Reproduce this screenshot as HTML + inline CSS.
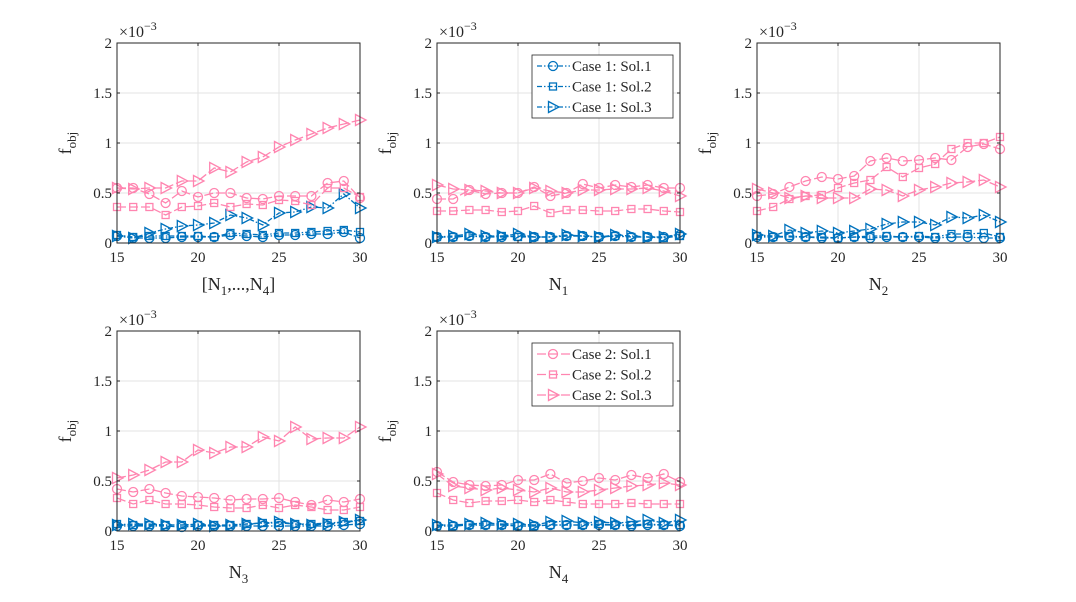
<!DOCTYPE html>
<html><head><meta charset="utf-8"><style>
html,body{margin:0;padding:0;background:#fff;}
svg{display:block;font-family:"Liberation Serif",serif;}
</style></head><body>
<svg id="fig" width="1076" height="602" viewBox="0 0 1076 602" xmlns="http://www.w3.org/2000/svg"></svg>
<script>
const xCats=[15,16,17,18,19,20,21,22,23,24,25,26,27,28,29,30];
const xTicks=[15,20,25,30];
const yTicks=[0,0.5,1,1.5,2];
const yTickLabels=["0","0.5","1","1.5","2"];
// values in units of 1e-3
const p1_c1s1=[.07,.05,.05,.05,.06,.06,.06,.08,.07,.06,.08,.08,.09,.09,.11,.05];
const p1_c1s2=[.08,.06,.07,.07,.07,.07,.06,.10,.09,.08,.10,.10,.11,.12,.13,.11];
const p1_c1s3=[.07,.05,.10,.14,.17,.18,.20,.28,.25,.18,.30,.31,.36,.35,.49,.35];
const p1_c2s1=[.55,.55,.49,.40,.52,.46,.50,.50,.45,.44,.47,.47,.47,.60,.62,.45];
const p1_c2s2=[.36,.36,.36,.28,.36,.37,.40,.36,.39,.38,.43,.42,.38,.55,.55,.46];
const p1_c2s3=[.55,.54,.55,.55,.62,.62,.75,.71,.81,.86,.96,1.03,1.09,1.15,1.19,1.23];
const p2_c1s1=[.06,.06,.07,.06,.06,.07,.06,.06,.07,.07,.06,.07,.06,.06,.06,.08];
const p2_c1s2=[.06,.06,.07,.06,.07,.06,.06,.06,.07,.07,.06,.07,.06,.06,.05,.07];
const p2_c1s3=[.06,.07,.09,.07,.07,.09,.06,.06,.08,.07,.06,.08,.07,.06,.06,.09];
const p2_c2s1=[.44,.44,.53,.49,.50,.50,.56,.47,.50,.59,.55,.58,.56,.58,.55,.55];
const p2_c2s2=[.32,.32,.33,.33,.31,.32,.37,.30,.33,.33,.32,.32,.34,.34,.32,.31];
const p2_c2s3=[.58,.54,.53,.52,.50,.50,.55,.52,.50,.53,.53,.54,.54,.55,.52,.47];
const p3_c1s1=[.06,.06,.06,.06,.05,.05,.06,.05,.06,.06,.06,.05,.06,.06,.05,.05];
const p3_c1s2=[.07,.06,.07,.06,.06,.05,.06,.07,.07,.06,.07,.06,.09,.09,.10,.06];
const p3_c1s3=[.08,.07,.13,.10,.12,.10,.12,.14,.19,.21,.21,.18,.26,.25,.28,.21];
const p3_c2s1=[.47,.49,.56,.62,.66,.64,.67,.82,.85,.82,.83,.85,.83,.96,.99,.94];
const p3_c2s2=[.32,.36,.44,.47,.48,.55,.60,.63,.76,.66,.75,.79,.94,1.0,1.0,1.06];
const p3_c2s3=[.54,.50,.45,.47,.45,.45,.45,.54,.53,.47,.53,.56,.60,.61,.63,.56];
const p4_c1s1=[.05,.05,.05,.05,.04,.05,.05,.05,.05,.05,.05,.05,.05,.05,.06,.07];
const p4_c1s2=[.07,.06,.06,.06,.06,.06,.06,.06,.07,.08,.08,.07,.07,.08,.09,.10];
const p4_c1s3=[.06,.07,.07,.06,.06,.07,.05,.06,.07,.08,.09,.07,.06,.07,.09,.11];
const p4_c2s1=[.42,.39,.42,.38,.35,.34,.33,.31,.32,.32,.33,.29,.26,.31,.29,.32];
const p4_c2s2=[.33,.27,.31,.27,.27,.26,.24,.23,.23,.26,.23,.26,.24,.21,.21,.24];
const p4_c2s3=[.53,.56,.61,.69,.69,.81,.78,.84,.84,.94,.90,1.04,.92,.93,.93,1.04];
const p5_c1s1=[.05,.05,.06,.06,.06,.05,.05,.06,.06,.06,.06,.06,.05,.06,.06,.05];
const p5_c1s2=[.05,.05,.06,.06,.06,.05,.05,.06,.06,.06,.07,.06,.06,.07,.06,.06];
const p5_c1s3=[.06,.06,.07,.08,.07,.07,.06,.09,.10,.08,.09,.08,.09,.11,.08,.11];
const p5_c2s1=[.59,.49,.46,.45,.46,.51,.51,.57,.48,.50,.53,.51,.56,.53,.57,.49];
const p5_c2s2=[.38,.31,.28,.30,.30,.31,.29,.31,.29,.27,.27,.27,.28,.27,.27,.27];
const p5_c2s3=[.57,.45,.43,.41,.43,.41,.39,.43,.39,.39,.41,.43,.45,.46,.48,.46];

const NS="http://www.w3.org/2000/svg";
const svg=document.getElementById('fig');
const BLUE="#0072BD", PINK="#FF85B0";
function mk(tag,attrs,parent){const e=document.createElementNS(NS,tag);for(const k in attrs)e.setAttribute(k,attrs[k]);(parent||svg).appendChild(e);return e;}

const panels=[
 {x0:117,y0:43,lab:"[N",sub:"1",tail:",...,N",sub2:"4",end:"]",data:[p1_c1s1,p1_c1s2,p1_c1s3,p1_c2s1,p1_c2s2,p1_c2s3],name:"panel-all"},
 {x0:437,y0:43,lab:"N",sub:"1",data:[p2_c1s1,p2_c1s2,p2_c1s3,p2_c2s1,p2_c2s2,p2_c2s3],legend:1,name:"panel-n1"},
 {x0:757,y0:43,lab:"N",sub:"2",data:[p3_c1s1,p3_c1s2,p3_c1s3,p3_c2s1,p3_c2s2,p3_c2s3],name:"panel-n2"},
 {x0:117,y0:331,lab:"N",sub:"3",data:[p4_c1s1,p4_c1s2,p4_c1s3,p4_c2s1,p4_c2s2,p4_c2s3],name:"panel-n3"},
 {x0:437,y0:331,lab:"N",sub:"4",data:[p5_c1s1,p5_c1s2,p5_c1s3,p5_c2s1,p5_c2s2,p5_c2s3],legend:2,name:"panel-n4"}
];
const W=243,H=200;
const styles=[
 {c:BLUE,m:"o",d:"5,2,1.5,2"},{c:BLUE,m:"s",d:"5,2,1.5,2"},{c:BLUE,m:"t",d:"5,2,1.5,2"},
 {c:PINK,m:"o",d:"9,3"},{c:PINK,m:"s",d:"9,3"},{c:PINK,m:"t",d:"9,3"}];
function marker(g,m,x,y,c){
 if(m==="o")return mk('circle',{cx:x,cy:y,r:4.5,fill:"none",stroke:c,"stroke-width":1.3},g);
 if(m==="s")return mk('rect',{x:x-3.5,y:y-3.5,width:7,height:7,fill:"none",stroke:c,"stroke-width":1.3},g);
 return mk('polygon',{points:`${x-4.5},${y-5.5} ${x+6},${y} ${x-4.5},${y+5.5}`,fill:"none",stroke:c,"stroke-width":1.3},g);
}
panels.forEach((p,pi)=>{
 const g=mk('g',{});
 
 
 const sx=v=>p.x0+(v-15)/15*W, sy=v=>p.y0+H-v/2*H;
 mk('rect',{x:p.x0,y:p.y0,width:W,height:H,fill:"#fff"},g);
 xTicks.forEach(t=>{mk('line',{x1:sx(t),x2:sx(t),y1:p.y0,y2:p.y0+H,stroke:"#e3e3e3","stroke-width":1},g);});
 yTicks.forEach(t=>{mk('line',{x1:p.x0,x2:p.x0+W,y1:sy(t),y2:sy(t),stroke:"#e3e3e3","stroke-width":1},g);});
 const plot=mk('g',{},g);
 
 
 p.data.forEach((arr,si)=>{
  const st=styles[si];
  const s=mk('g',{},plot);
  
  
  mk('polyline',{points:arr.map((v,i)=>sx(xCats[i])+","+sy(v)).join(" "),fill:"none",stroke:st.c,"stroke-width":1.3,"stroke-dasharray":st.d},s);
  arr.forEach((v,i)=>{const mm=marker(s,st.m,sx(xCats[i]),sy(v),st.c);
   
   });
 });
 mk('rect',{x:p.x0,y:p.y0,width:W,height:H,fill:"none",stroke:"#262626","stroke-width":1},g);
 xTicks.forEach(t=>{
  mk('line',{x1:sx(t),x2:sx(t),y1:p.y0+H,y2:p.y0+H-3,stroke:"#262626"},g);
  mk('line',{x1:sx(t),x2:sx(t),y1:p.y0,y2:p.y0+3,stroke:"#262626"},g);
  const tx=mk('text',{x:sx(t),y:p.y0+H+19,"text-anchor":"middle","font-size":15,fill:"#262626"},g);
  tx.textContent=t;
  
  
 });
 yTicks.forEach((t,i)=>{
  mk('line',{x1:p.x0,x2:p.x0+3,y1:sy(t),y2:sy(t),stroke:"#262626"},g);
  mk('line',{x1:p.x0+W,x2:p.x0+W-3,y1:sy(t),y2:sy(t),stroke:"#262626"},g);
  const tx=mk('text',{x:p.x0-5,y:sy(t)+5,"text-anchor":"end","font-size":15,fill:"#262626"},g);
  tx.textContent=yTickLabels[i];
  
  
 });
 const ex=mk('text',{x:p.x0+2,y:p.y0-6,"font-size":16,fill:"#262626"},g);
 ex.innerHTML='×10<tspan dy="-7" font-size="12">−3</tspan>';
 
 
 const yl=mk('text',{transform:`translate(${p.x0-46},${p.y0+H/2}) rotate(-90)`,"text-anchor":"middle","font-size":18,fill:"#262626"},g);
 yl.innerHTML='f<tspan dy="5" font-size="13">obj</tspan>';
 
 
 const xl=mk('text',{x:p.x0+W/2,y:p.y0+H+47,"text-anchor":"middle","font-size":18,fill:"#262626"},g);
 if(p.tail) xl.innerHTML=`[N<tspan dy="5" font-size="13">1</tspan><tspan dy="-5">,...,N</tspan><tspan dy="5" font-size="13">4</tspan><tspan dy="-5">]</tspan>`;
 else xl.innerHTML=`N<tspan dy="5" font-size="13">${p.sub}</tspan>`;
 
 
 if(p.legend){
  const lg=mk('g',{},g);
  
  
  const lx=p.x0+95, ly=p.y0+12;
  mk('rect',{x:lx,y:ly,width:141,height:63,fill:"#fff",stroke:"#262626","stroke-width":0.8},lg);
  const base=p.legend===1?0:3;
  for(let k=0;k<3;k++){
   const st=styles[base+k], yy=ly+11+k*20.5;
   const e=mk('g',{},lg);
   
   
   mk('line',{x1:lx+5,x2:lx+38,y1:yy,y2:yy,stroke:st.c,"stroke-width":1.3,"stroke-dasharray":st.d},e);
   marker(e,st.m,lx+21,yy,st.c);
   const t=mk('text',{x:lx+40,y:yy+5,"font-size":15,fill:"#262626"},e);
   t.textContent=`Case ${p.legend}: Sol.${k+1}`;
  }
 }
});
</script>
</body></html>
